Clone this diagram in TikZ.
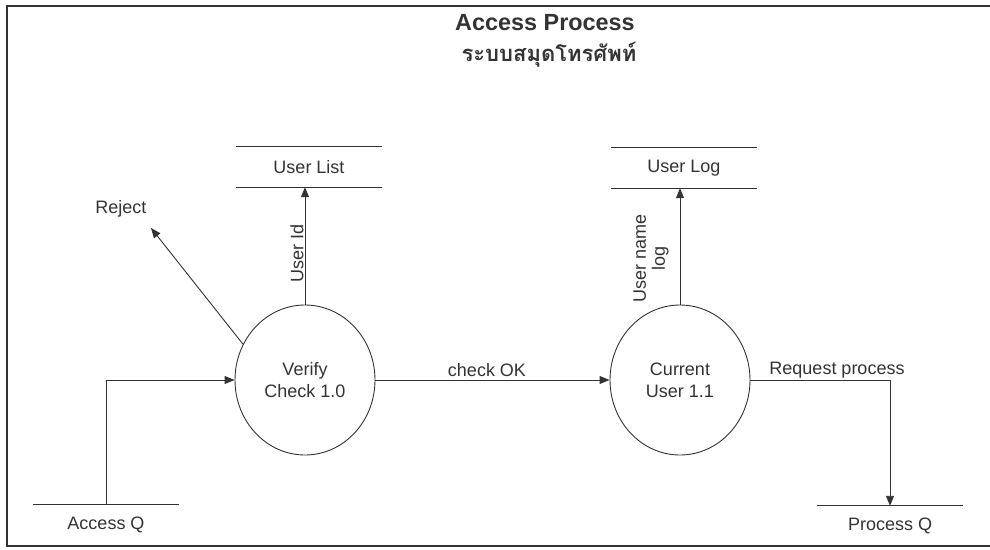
\documentclass[tikz,border=0pt]{standalone}
\usepackage{fontspec}
\setmainfont{Liberation Sans}
\newfontfamily\thaifont[Script=Thai]{Loma}
\usetikzlibrary{shapes.geometric,arrows.meta}
\definecolor{ink}{HTML}{333333}
\tikzset{
  every node/.style={font=\fontsize{18}{22}\selectfont, text=ink},
  proc/.style={ellipse, draw=ink, line width=0.9pt, minimum width=140pt, minimum height=150pt, align=center, inner sep=0pt},
  store/.style={minimum width=146pt, minimum height=40pt, inner sep=0pt},
  flow/.style={draw=ink, line width=0.9pt, -{Triangle[length=10pt,width=8pt]}},
  storeline/.style={draw=ink, line width=0.9pt},
  lbl/.style={inner sep=1pt}
}
\begin{document}
\begin{tikzpicture}[x=1pt,y=-1pt]
\useasboundingbox (0,0) rectangle (990,549);
\draw[ink, line width=2pt] (990,6) -- (7,6) -- (7,546) -- (990,546);
\node[font=\fontsize{23.4}{26}\selectfont\bfseries] (t1) at (545,23) {Access Process};
\node[font=\thaifont\fontsize{22}{24}\selectfont\bfseries] (t2) at (549,55) {ระบบสมุดโทรศัพท์};
% processes
\node[proc] (v) at (305,380) {Verify\\Check 1.0};
\node[proc] (c) at (680,380) {Current\\User 1.1};
% stores
\node[store] (ul) at (309,167) {User List};
\node[store] (ulog) at (684,168) {User Log};
\node[store] (aq) at (106,525) {Access Q};
\node[store] (pq) at (890,526) {Process Q};
\foreach \s in {ul,ulog,aq,pq}{
  \draw[storeline] (\s.north west) -- (\s.north east);
  \draw[storeline] (\s.south west) -- (\s.south east);
}
% reject
\coordinate (rj) at (151,228);
\node[lbl] (rjl) at (121,209) {Reject};
\draw[flow] (v.150) -- (rj);
% flows
\draw[flow] (v.north) -- (v.north |- ul.south);
\node[lbl, rotate=90] (uid) at (297,253) {User Id};
\draw[flow] (c.north) -- (c.north |- ulog.south);
\node[lbl, rotate=90, align=center, font=\fontsize{18}{19}\selectfont] (unl) at (651,258) {User name\\log};
\draw[flow] (v.east) -- (c.west);
\node[lbl] (ok) at (487,370) {check OK};
\draw[flow] (aq.north) |- (v.west);
\draw[flow] (c.east) -| (pq.north);
\node[lbl] (rp) at (837,370) {Request process};
\end{tikzpicture}
\end{document}
